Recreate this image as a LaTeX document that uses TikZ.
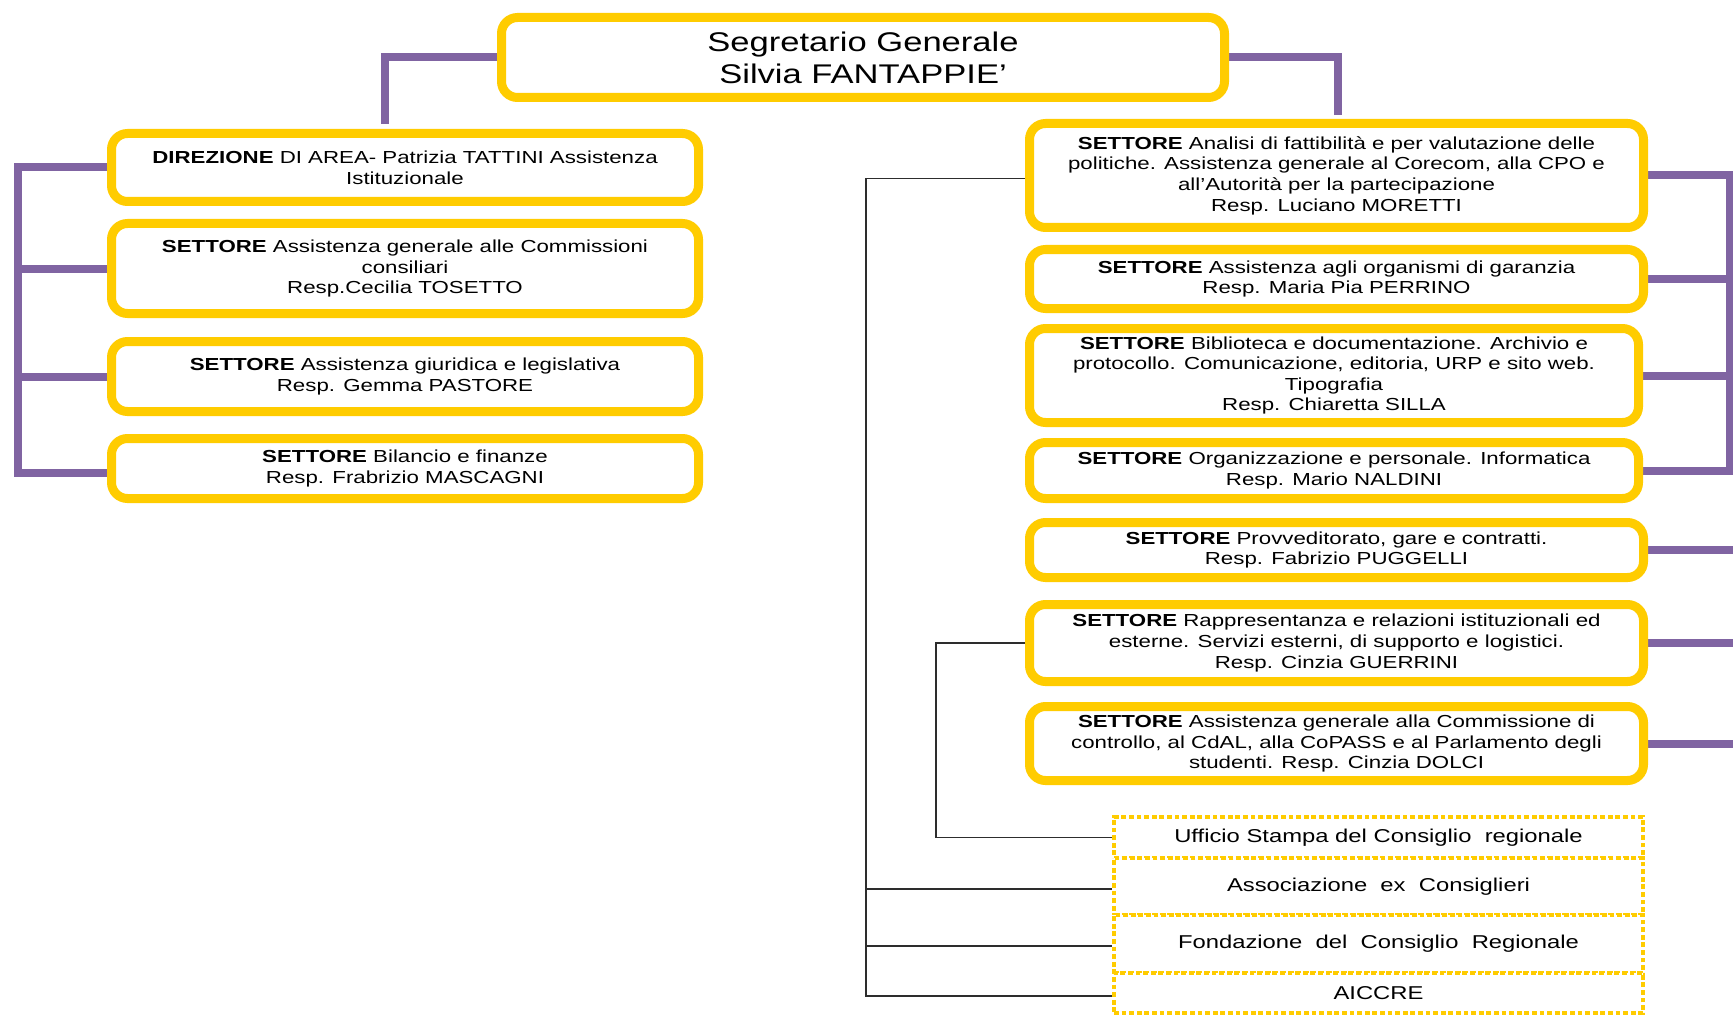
\documentclass[tikz,border=0pt]{standalone}
\usepackage{fontspec}
\setmainfont{Liberation Sans}[FakeStretch=1.28]
\usetikzlibrary{calc}
\definecolor{yel}{RGB}{255,204,0}
\definecolor{purp}{RGB}{128,100,162}
\definecolor{thinc}{RGB}{45,45,45}
\pgfdeclarelayer{background}
\pgfsetlayers{background,main}
\begin{document}
\begin{tikzpicture}[x=0.5pt,y=-0.5pt,
  box/.style={draw=yel, line width=4.5pt, rounded corners=8pt, fill=white, align=center, inner sep=0pt, font=\fontsize{8.7pt}{10.3pt}\selectfont},
  topbox/.style={box, font=\fontsize{13.5pt}{16pt}\selectfont},
  dbox/.style={draw=yel, line width=2pt, dash pattern=on 2.4pt off 1.4pt, fill=white, align=center, inner sep=0pt, font=\fontsize{9.3pt}{11pt}\selectfont},
  pline/.style={draw=purp, line width=4pt},
  tline/.style={draw=thinc, line width=0.9pt}]
\useasboundingbox (0,0) rectangle (1733,1016);

% top
\node[topbox, minimum width=361.5pt, minimum height=40pt] (T) at (863,57.5) {Segretario Generale\\Silvia FANTAPPIE’};

% left column
\node[box, minimum width=293.5pt, minimum height=34pt] (B1) at (405,167.5) {\textbf{DIREZIONE} DI AREA- Patrizia TATTINI Assistenza\\Istituzionale};
\node[box, minimum width=293.5pt, minimum height=45pt] (B2) at (405,268.5) {\textbf{SETTORE} Assistenza generale alle Commissioni\\consiliari\\Resp.Cecilia TOSETTO};
\node[box, minimum width=293.5pt, minimum height=35pt] (B3) at (405,376.5) {\textbf{SETTORE} Assistenza giuridica e legislativa\\Resp. Gemma PASTORE};
\node[box, minimum width=293.5pt, minimum height=30pt] (B4) at (405,468.5) {\textbf{SETTORE} Bilancio e finanze\\Resp. Frabrizio MASCAGNI};

% right column
\node[box, minimum width=307pt, minimum height=52pt] (R1) at (1336.5,175.5) {\textbf{SETTORE} Analisi di fattibilità e per valutazione delle\\politiche. Assistenza generale al Corecom, alla CPO e\\all’Autorità per la partecipazione\\Resp. Luciano MORETTI};
\node[box, minimum width=307pt, minimum height=29.5pt] (R2) at (1336.5,279) {\textbf{SETTORE} Assistenza agli organismi di garanzia\\Resp. Maria Pia PERRINO};
\node[box, minimum width=304.5pt, minimum height=47pt] (R3) at (1334,375.5) {\textbf{SETTORE} Biblioteca e documentazione. Archivio e\\protocollo. Comunicazione, editoria, URP e sito web.\\Tipografia\\Resp. Chiaretta SILLA};
\node[box, minimum width=304.5pt, minimum height=28pt] (R4) at (1334,470.5) {\textbf{SETTORE} Organizzazione e personale. Informatica\\Resp. Mario NALDINI};
\node[box, minimum width=307pt, minimum height=27.5pt] (R5) at (1336.5,550) {\textbf{SETTORE} Provveditorato, gare e contratti.\\Resp. Fabrizio PUGGELLI};
\node[box, minimum width=307pt, minimum height=38.5pt] (R6) at (1336.5,643) {\textbf{SETTORE} Rappresentanza e relazioni istituzionali ed\\esterne. Servizi esterni, di supporto e logistici.\\Resp. Cinzia GUERRINI};
\node[box, minimum width=307pt, minimum height=37pt] (R7) at (1336.5,743.5) {\textbf{SETTORE} Assistenza generale alla Commissione di\\controllo, al CdAL, alla CoPASS e al Parlamento degli\\studenti. Resp. Cinzia DOLCI};

% dotted boxes
\node[dbox, minimum width=264.5pt, minimum height=20.5pt] (D1) at (1378.5,837.5) {Ufficio Stampa del Consiglio\ \ regionale};
\node[dbox, minimum width=264.5pt, minimum height=28.5pt] (D2) at (1378.5,886.5) {Associazione\ \ ex\ \ Consiglieri};
\node[dbox, minimum width=264.5pt, minimum height=29pt] (D3) at (1378.5,944) {Fondazione\ \ del\ \ Consiglio\ \ Regionale};
\node[dbox, minimum width=264.5pt, minimum height=20pt] (D4) at (1378.5,993) {AICCRE};

\coordinate (tl) at (385,124);
\coordinate (tr) at (1338,115);
\coordinate (lb) at (18,0);
\coordinate (rb) at (1730,0);
\coordinate (re) at (1745,0);
\coordinate (ta) at (866,0);
\coordinate (tb) at (936,0);

\begin{pgfonlayer}{background}
\fill[white] (0,0) rectangle (1733,1016);
\draw[pline] (T.west) -| (tl);
\draw[pline] (T.east) -| (tr);
\draw[pline] (B1.west) -| (lb |- {$(B4.west)+(0,4.5)$}) -- ($(B4.west)+(0,4.5)$);
\draw[pline] (B2.west) -- (lb |- B2.west);
\draw[pline] (B3.west) -- (lb |- B3.west);
\draw[pline] (R1.east) -| (rb |- R4.east) -- (R4.east);
\draw[pline] (R2.east) -- (rb |- R2.east);
\draw[pline] (R3.east) -- (rb |- R3.east);
\draw[pline] (R5.east) -- (re |- R5.east);
\draw[pline] (R6.east) -- (re |- R6.east);
\draw[pline] (R7.east) -- (re |- R7.east);
\draw[tline] ($(R1.west)+(0,3)$) -| (ta |- {$(D4.west)+(0,3)$}) -- ($(D4.west)+(0,3)$);
\draw[tline] (ta |- {$(D2.west)+(0,2.5)$}) -- ($(D2.west)+(0,2.5)$);
\draw[tline] (ta |- {$(D3.west)+(0,2)$}) -- ($(D3.west)+(0,2)$);
\draw[tline] (R6.west) -| (tb |- D1.west) -- (D1.west);
\end{pgfonlayer}
\end{tikzpicture}
\end{document}
